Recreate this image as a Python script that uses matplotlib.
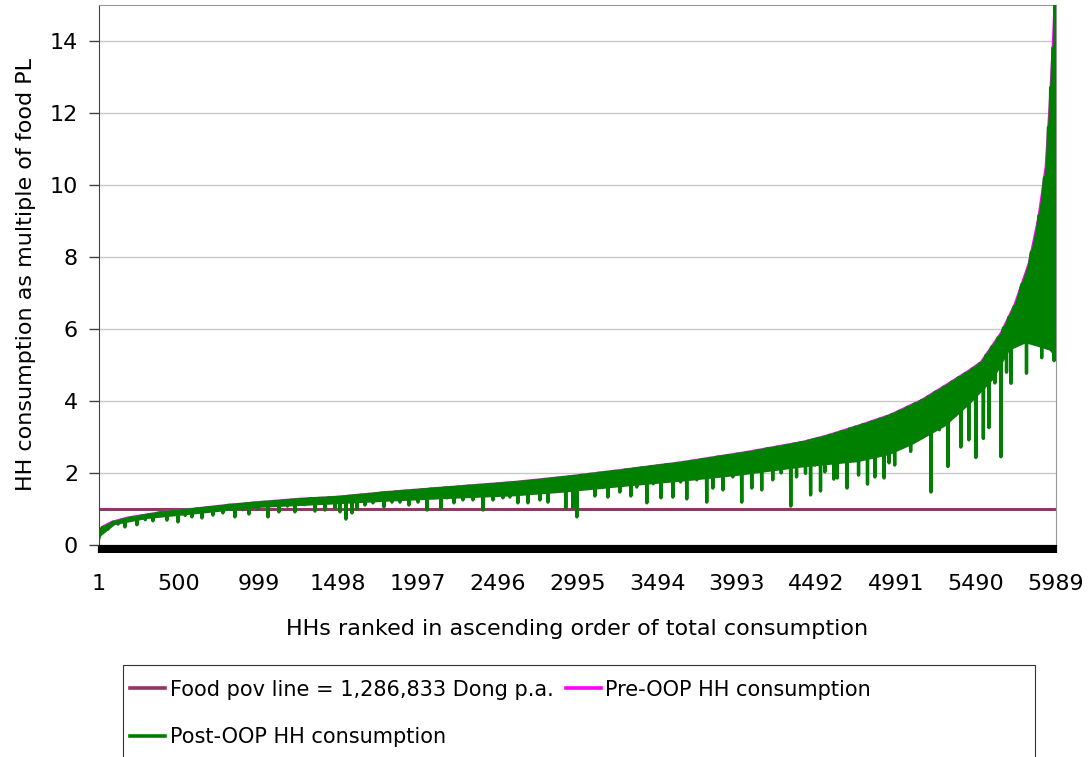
import numpy as np
import matplotlib
matplotlib.use("Agg")
import matplotlib.pyplot as plt
from matplotlib.patches import Rectangle

# ── Data ────────────────────────────────────────────────────────────────────
n_households = 5989
xtick_labels = [1, 500, 999, 1498, 1997, 2496, 2995, 3494, 3993, 4492, 4991, 5490, 5989]
yticks = [0, 2, 4, 6, 8, 10, 12, 14]

food_pov_line = 1.0

# pre-OOP consumption (upper envelope)
pre_rank = [1, 20, 80, 180, 400, 600, 800, 1000, 1250, 1500, 1800, 2200, 2600, 2950,
            3300, 3650, 4050, 4400, 4550, 4750, 4950, 5150, 5300, 5450, 5520, 5645,
            5730, 5820, 5880, 5925, 5950, 5970, 5982, 5989]
pre_val = [0.22, 0.50, 0.64, 0.76, 0.92, 1.01, 1.11, 1.19, 1.28, 1.34, 1.47, 1.61, 1.75, 1.91,
           2.10, 2.30, 2.58, 2.86, 3.03, 3.31, 3.61, 4.03, 4.44, 4.86, 5.08, 5.89,
           6.67, 7.83, 9.10, 10.5, 12.2, 13.9, 15.2, 30.0]

# post-OOP consumption: lower edge of the dense band of households
band_rank = [1, 100, 300, 600, 1000, 1450, 1800, 2200, 2600, 2900, 3300, 3700, 4000,
             4400, 4750, 4950, 5100, 5300, 5450, 5600, 5700, 5800, 5880, 5950, 5989]
band_low = [0.20, 0.55, 0.72, 0.85, 1.03, 1.12, 1.20, 1.28, 1.35, 1.45, 1.62, 1.78, 1.92,
            2.15, 2.30, 2.50, 2.80, 3.30, 3.90, 4.60, 5.40, 5.60, 5.50, 5.40, 5.20]

# post-OOP consumption: individual dips and the tops between them
post_rank = [1, 20,
             57, 88, 120, 141, 163, 200, 238, 264, 290, 314, 338, 382, 426, 460, 495, 518,
             540, 561, 582, 613, 645, 680, 714, 745, 776, 813, 851, 875, 900, 920, 939, 967,
             995, 1026, 1058, 1092, 1127, 1153, 1180, 1203, 1227, 1258, 1290, 1321, 1352, 1383,
             1415, 1446, 1477, 1493, 1509, 1527, 1546, 1565, 1584, 1600, 1615, 1640, 1665, 1690,
             1715, 1732, 1750, 1767, 1784, 1809, 1834, 1859, 1884, 1912, 1940, 1968, 1997, 2025,
             2053, 2076, 2100, 2120, 2141, 2160, 2178, 2200, 2222, 2250, 2278, 2310, 2341, 2372,
             2404, 2435, 2466, 2497, 2529, 2550, 2572, 2597, 2622, 2653, 2685, 2722, 2760, 2785,
             2810, 2830, 2850, 2868, 2885, 2903, 2922, 2944, 2966, 2978, 2991, 3016, 3041, 3072,
             3104, 3127, 3150, 3167, 3185, 3222, 3260, 3294, 3329, 3347, 3366, 3397, 3429, 3450,
             3470, 3493, 3517, 3555, 3592, 3616, 3640, 3660, 3679, 3710, 3742, 3773, 3804, 3823,
             3842, 3873, 3905, 3936, 3967, 3995, 4023, 4055, 4086, 4117, 4148, 4182, 4217, 4243,
             4270, 4300, 4330, 4348, 4366, 4394, 4422, 4438, 4454, 4468, 4482, 4499, 4516, 4530,
             4543, 4571, 4599, 4610, 4621, 4651, 4682, 4697, 4713, 4733, 4754, 4782, 4810, 4833,
             4856, 4885, 4914, 4930, 4945, 4962, 4980, 5009, 5038, 5059, 5080, 5103, 5126, 5148,
             5170, 5188, 5207, 5233, 5260, 5286, 5313, 5336, 5360, 5377, 5394, 5419, 5444, 5466,
             5488, 5511, 5535, 5552, 5570, 5588, 5607, 5626, 5645, 5662, 5680, 5694, 5708, 5727,
             5746, 5775, 5805, 5835, 5865, 5882, 5900, 5917, 5935, 5942, 5950, 5956, 5962, 5970,
             5978, 5984, 5989]
post_val = [0.20, 0.48,
            0.44, 0.63, 0.58, 0.69, 0.50, 0.75, 0.56, 0.80, 0.70, 0.84, 0.67, 0.89, 0.69, 0.93, 0.64, 0.95,
            0.82, 0.97, 0.78, 1.00, 0.75, 1.03, 0.83, 1.06, 0.89, 1.10, 0.78, 1.12, 0.98, 1.14, 0.86, 1.16,
            1.00, 1.18, 0.78, 1.20, 0.92, 1.22, 1.08, 1.24, 0.92, 1.26, 1.12, 1.28, 0.94, 1.29,
            0.97, 1.31, 1.03, 1.32, 0.92, 1.33, 0.72, 1.35, 0.89, 1.36, 1.00, 1.38, 1.11, 1.40,
            1.17, 1.42, 1.28, 1.44, 1.06, 1.45, 1.19, 1.47, 1.19, 1.49, 1.11, 1.51, 1.19, 1.53,
            0.97, 1.55, 1.35, 1.56, 1.00, 1.58, 1.31, 1.59, 1.17, 1.61, 1.25, 1.63, 1.25, 1.65,
            0.97, 1.67, 1.25, 1.69, 1.31, 1.71, 1.33, 1.73, 1.17, 1.75, 1.17, 1.78, 1.25, 1.81,
            1.19, 1.83, 1.50, 1.85, 1.61, 1.87, 1.03, 1.89, 1.03, 1.90, 0.78, 1.93, 1.58, 1.96,
            1.36, 1.99, 1.60, 2.01, 1.33, 2.04, 1.47, 2.08, 1.36, 2.11, 1.61, 2.14, 1.17, 2.17,
            1.70, 2.19, 1.31, 2.23, 1.33, 2.26, 1.75, 2.29, 1.28, 2.32, 1.81, 2.37, 1.19, 2.40,
            1.58, 2.44, 1.53, 2.48, 1.89, 2.52, 1.19, 2.56, 1.58, 2.61, 1.53, 2.67, 1.81, 2.71,
            2.00, 2.76, 1.08, 2.80, 1.89, 2.84, 1.99, 2.88, 1.39, 2.92, 2.22, 2.95, 1.50, 2.98,
            2.03, 3.04, 1.83, 3.09, 1.86, 3.15, 1.58, 3.22, 2.73, 3.27, 1.94, 3.34, 1.69, 3.41,
            1.89, 3.49, 1.86, 3.56, 2.28, 3.62, 2.22, 3.71, 2.92, 3.82, 2.60, 3.91, 2.95, 4.01,
            3.30, 4.11, 1.47, 4.24, 3.20, 4.38, 2.18, 4.52, 3.60, 4.64, 2.72, 4.75, 2.92, 4.89,
            2.43, 5.03, 2.96, 5.27, 3.26, 5.50, 4.50, 5.75, 2.45, 6.03, 4.80, 6.32, 4.49, 6.61,
            5.69, 7.23, 4.77, 8.13, 5.68, 9.14, 5.20, 10.2, 6.00, 11.6, 5.69, 12.7, 5.80, 13.8,
            5.12, 19.0, 10.3]

# ── Build a spike path: each dip drops straight down, edges kept under the tops ──
spike_x, spike_y = [], []
for i, (r, v) in enumerate(zip(post_rank, post_val)):
    prev_v = post_val[i - 1] if i > 0 else v
    next_v = post_val[i + 1] if i < len(post_val) - 1 else v
    if i > 0 and v < prev_v and v < next_v:
        edge = min(prev_v, next_v)
        spike_x += [r - 3, r, r + 3]
        spike_y += [edge, v, edge]
    else:
        spike_x.append(r)
        spike_y.append(v)

# ── Figure ──────────────────────────────────────────────────────────────────
plt.rcParams['font.family'] = 'DejaVu Sans'

fig = plt.figure(figsize=(10.91, 7.57), dpi=100)
ax = fig.add_axes([0.0907, 0.2801, 0.8772, 0.7133])

green = '#008000'
ax.axhline(food_pov_line, color='#993366', lw=2.2, zorder=2,
           label='Food pov line = 1,286,833 Dong p.a.')
ax.plot(pre_rank, pre_val, color='#ff00ff', lw=1.6, zorder=3,
        label='Pre-OOP HH consumption')
ax.fill(list(pre_rank) + band_rank[::-1], list(pre_val) + band_low[::-1],
        color=green, lw=0, zorder=4)
ax.plot(spike_x, spike_y, color=green, lw=2.4, zorder=5,
        label='Post-OOP HH consumption')

# ── Axes styling ────────────────────────────────────────────────────────────
ax.set_xlim(0.5, n_households + 0.5)
ax.set_ylim(0, 15)
ax.set_yticks(yticks)
ax.set_xticks(xtick_labels)
ax.set_xticklabels([str(v) for v in xtick_labels])
ax.set_xticks(np.arange(1, n_households + 1, 6), minor=True)

ax.tick_params(axis='x', which='both', length=6, width=1.6, color='black',
               direction='out', labelsize=16, pad=15)
ax.tick_params(axis='y', length=7, width=1, color='#404040', labelsize=16, pad=8)

ax.yaxis.grid(True, color='#c8c8c8', lw=1)
ax.set_axisbelow(True)

for side in ['top', 'right']:
    ax.spines[side].set_color('#999999')
ax.spines['left'].set_color('#404040')
ax.spines['bottom'].set_color('black')

ax.set_xlabel('HHs ranked in ascending order of total consumption', fontsize=16, labelpad=18)
ax.set_ylabel('HH consumption as multiple of food PL', fontsize=16, labelpad=10)

# ── Legend (bottom box, cut off by figure edge) ─────────────────────────────
handles, labels = ax.get_legend_handles_labels()
order = [0, 2, 1]
leg = fig.legend([handles[i] for i in order], [labels[i] for i in order],
                 loc='upper left', bbox_to_anchor=(0.1192, 0.102), ncol=2, frameon=False,
                 fontsize=15, handlelength=1.7, handletextpad=0.2, columnspacing=0.6,
                 labelspacing=1.3, borderpad=0, borderaxespad=0)
for h in leg.legend_handles:
    h.set_linewidth(2.6)
fig.patches.append(Rectangle((123 / 1091, -0.05), (1035 - 123) / 1091, 0.05 + (757 - 665) / 757,
                             transform=fig.transFigure, fill=False, ec='#333333', lw=0.8))

fig.savefig('out.png', dpi=100)
